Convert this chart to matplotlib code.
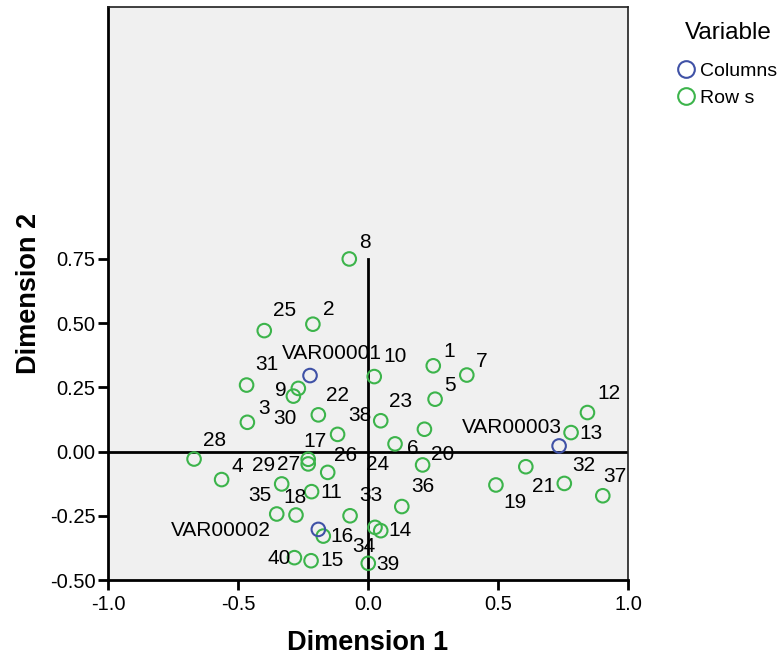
import matplotlib
matplotlib.use('Agg')
import matplotlib.pyplot as plt
from matplotlib.lines import Line2D

plt.rcParams['font.family'] = ['Liberation Sans', 'DejaVu Sans']

# Row points (Dimension 1, Dimension 2)
row_labels = [str(i) for i in range(1, 41)]
row_dim1 = [0.251, -0.212, -0.464, -0.563, 0.258, 0.104, 0.380, -0.072, -0.268, 0.024,
            -0.217, 0.844, 0.781, 0.049, -0.219, -0.172, -0.230, -0.277, 0.492, 0.210,
            0.607, -0.191, 0.049, 0.217, -0.399, -0.155, -0.230, -0.669, -0.332, -0.287,
            -0.467, 0.755, -0.069, 0.027, -0.351, 0.130, 0.903, -0.117, 0.001, -0.283]
row_dim2 = [0.334, 0.496, 0.114, -0.109, 0.204, 0.030, 0.298, 0.750, 0.246, 0.292,
            -0.156, 0.152, 0.074, -0.308, -0.425, -0.329, -0.030, -0.247, -0.130, -0.052,
            -0.059, 0.143, 0.120, 0.087, 0.471, -0.081, -0.048, -0.029, -0.126, 0.216,
            0.259, -0.124, -0.250, -0.295, -0.243, -0.214, -0.172, 0.067, -0.435, -0.413]

# Column points
col_labels = ['VAR00001', 'VAR00002', 'VAR00003']
col_dim1 = [-0.223, -0.191, 0.735]
col_dim2 = [0.296, -0.303, 0.022]

# label offsets in pixels (dx right, dy down) relative to the point
row_offsets = [(16, -14), (16, -15), (17, -14), (16, -13), (15, -14), (18, 5), (15, -14), (16, -16),
               (-18, 2), (21, -20), (20, 1), (21, -19), (20, 1), (19, 0), (21, 0), (19, 0),
               (7, -18), (-1, -18), (19, 18), (20, -10), (18, 20), (19, -19), (20, -19), (-47, 35),
               (20, -20), (18, -17), (-20, 1), (21, -19), (-18, -18), (-8, 22), (20, -21), (20, -18),
               (21, -20), (-11, 19), (-17, -18), (21, -20), (12, -19), (22, -19), (20, 1), (-15, 1)]
col_offsets = [(22, -22), (-97, 1), (-47, -18)]

green = '#3cb44b'
blue = '#3f51a6'

fig = plt.figure(figsize=(7.8, 6.69), dpi=100)
ax = fig.add_axes([108 / 780, 89 / 669, 520 / 780, 573 / 669])
ax.set_facecolor('#f0f0f0')

ax.set_xlim(-1.0, 1.0)
ax.set_ylim(-0.5, 1.731)

# reference lines
ax.axhline(0, color='black', lw=2, zorder=1)
ax.plot([0, 0], [-0.5, 0.75], color='black', lw=2, zorder=1)

ax.scatter(row_dim1, row_dim2, s=95, facecolors='none', edgecolors=green, linewidths=1.5, zorder=3)
ax.scatter(col_dim1, col_dim2, s=95, facecolors='none', edgecolors=blue, linewidths=1.5, zorder=3)

for lab, x, y, (dx, dy) in zip(row_labels, row_dim1, row_dim2, row_offsets):
    ax.annotate(lab, (x, y), xytext=(dx, -dy), textcoords='offset pixels',
                ha='center', va='center', fontsize=15, color='black', zorder=4)
for lab, x, y, (dx, dy) in zip(col_labels, col_dim1, col_dim2, col_offsets):
    ax.annotate(lab, (x, y), xytext=(dx, -dy), textcoords='offset pixels',
                ha='center', va='center', fontsize=15, color='black', zorder=4)

ax.set_xticks([-1.0, -0.5, 0.0, 0.5, 1.0])
ax.set_xticklabels(['-1.0', '-0.5', '0.0', '0.5', '1.0'])
ax.set_yticks([-0.5, -0.25, 0.0, 0.25, 0.5, 0.75])
ax.set_yticklabels(['-0.50', '-0.25', '0.00', '0.25', '0.50', '0.75'])
ax.tick_params(axis='both', direction='out', length=7, width=2, labelsize=14.5, color='black')
ax.tick_params(axis='x', pad=4)
ax.tick_params(axis='y', pad=2)

for side in ['left', 'bottom']:
    ax.spines[side].set_linewidth(2)
for side in ['top', 'right']:
    ax.spines[side].set_linewidth(1.2)
    ax.spines[side].set_color('#202020')

ax.set_xlabel('Dimension 1', fontsize=19.5, fontweight='bold', labelpad=11)
ax.set_ylabel('Dimension 2', fontsize=19.5, fontweight='bold', labelpad=6)

fig.text(728 / 780, 1 - 33 / 669, 'Variable', ha='center', va='center', fontsize=17.5)
handles = [Line2D([], [], ls='none', marker='o', ms=12, mfc='none', mec=blue, mew=1.5),
           Line2D([], [], ls='none', marker='o', ms=12, mfc='none', mec=green, mew=1.5)]
fig.legend(handles, ['Columns', 'Row s'], loc='upper left',
           bbox_to_anchor=(672 / 780, 1 - 58 / 669), frameon=False, fontsize=14,
           handlelength=1.0, handletextpad=0.25, labelspacing=0.5, borderpad=0.2,
           borderaxespad=0)

fig.savefig('out.png', dpi=100)
